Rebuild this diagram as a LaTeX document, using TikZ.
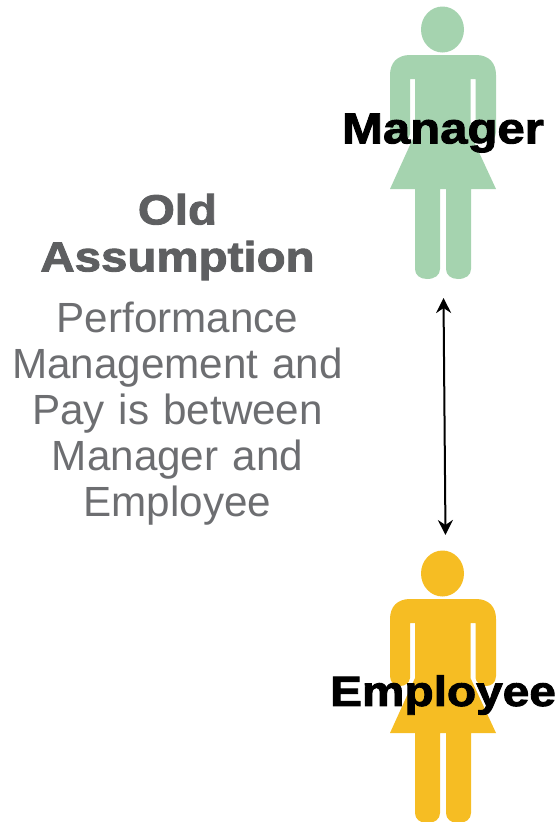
\documentclass[tikz,border=0pt]{standalone}
\usepackage{fontspec}
\setmainfont{Liberation Sans}
\newfontfamily\blackfont[FakeBold=2.2,FakeStretch=1.13]{Liberation Sans Bold}
\usetikzlibrary{arrows.meta}
\definecolor{mgrgreen}{HTML}{A5D3AF}
\definecolor{empyellow}{HTML}{F6BD23}
\definecolor{headgray}{HTML}{5E5F61}
\definecolor{bodygray}{HTML}{6D6E71}
\tikzset{
  x=1pt,y=-1pt,
  figlabel/.style={text=black,inner sep=0pt,anchor=center},
  titletext/.style={font=\blackfont\fontsize{42}{47}\selectfont,text=headgray,align=center,inner sep=0pt,text width=340pt},
  bodytext/.style={font=\fontsize{42.2}{46}\selectfont,text=bodygray,align=center,inner sep=0pt,text width=345pt},
  link/.style={black,line width=2pt,{Stealth[length=15pt,width=15pt,inset=5pt]}-{Stealth[length=15pt,width=15pt,inset=5pt]}},
  pics/person/.style={code={
    \fill[#1] (442.5,29.5) ellipse[x radius=21.5,y radius=23];
    \fill[#1] (410,55)
      -- (476,55)
      .. controls (489,55) and (496,63) .. (496,75)
      -- (496,132)
      .. controls (496,139) and (491,142) .. (486,142)
      .. controls (481,142) and (476,139) .. (475.5,134)
      -- (475.5,79) -- (470.5,79) -- (470.5,134)
      -- (496,189) -- (471,189) -- (471,269)
      .. controls (471,275) and (466,279) .. (458,279)
      .. controls (451,279) and (446,275) .. (446,269)
      -- (446,189) -- (440,189) -- (440,269)
      .. controls (440,275) and (435,279) .. (427,279)
      .. controls (420,279) and (415,275) .. (415,269)
      -- (415,189) -- (390,189) -- (415,134)
      -- (415,79) -- (410,79) -- (410,134)
      .. controls (409.5,139) and (405,142) .. (400,142)
      .. controls (395,142) and (390,139) .. (390,132)
      -- (390,75)
      .. controls (390,63) and (397,55) .. (410,55) -- cycle;
  }}
}
\begin{document}
\begin{tikzpicture}
\useasboundingbox (0,0) rectangle (558,822);
\pic {person=mgrgreen};
\pic at (0,544) {person=empyellow};
\node[figlabel,font=\blackfont\fontsize{43.4}{46}\selectfont] (manager) at (443,133) {Manager};
\node[figlabel,font=\blackfont\fontsize{42.3}{46}\selectfont] (employee) at (443,695) {Employee};
\node[titletext] (title) at (177.5,237) {Old\\Assumption};
\node[bodytext] (body) at (177.5,413.5) {Performance\\Management and\\Pay is between\\Manager and\\Employee};
\coordinate (arrowtop) at (443.5,298);
\coordinate (arrowbottom) at (445.5,535);
\draw[link] (arrowtop) -- (arrowbottom);
\end{tikzpicture}
\end{document}
